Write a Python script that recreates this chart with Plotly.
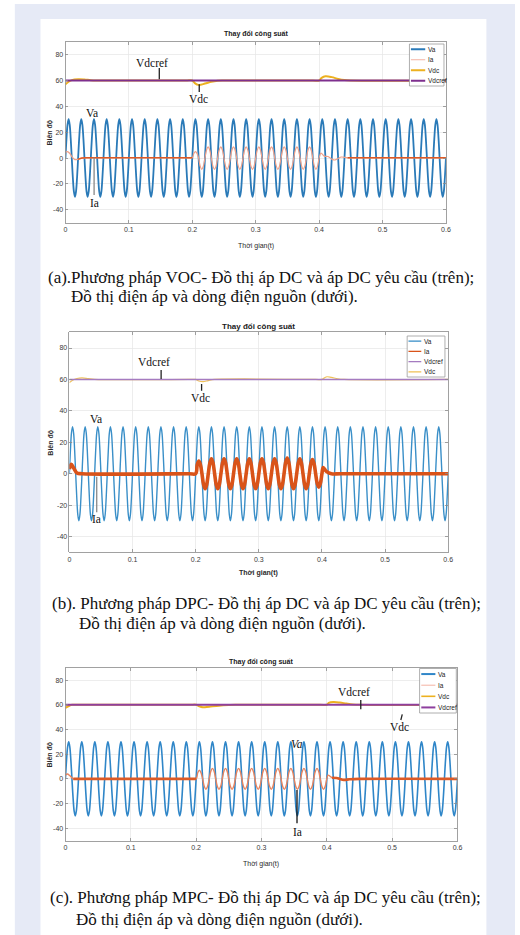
import plotly.graph_objects as go

W, H = 520, 935

# ------------------------------------------------------------------ data
X_RANGE = [0, 0.6]
Y_RANGE = [-50, 90]
X_TICKS = [0, 0.1, 0.2, 0.3, 0.4, 0.5, 0.6]
X_TICK_LABELS = ["0", "0.1", "0.2", "0.3", "0.4", "0.5", "0.6"]
Y_TICKS = [-40, -20, 0, 20, 40, 60, 80]
Y_TICK_LABELS = ["-40", "-20", "0", "20", "40", "60", "80"]

TITLE = "Thay đổi công suất"
X_LABEL = "Thời gian(t)"
Y_LABEL = "Biên độ"

T_END = 0.6
# one period of the source voltage Va (50 Hz, 30 V peak)
VA_PERIOD = 0.02
VA_CYCLE = [0, 15, 26, 30, 26, 15, 0, -15, -26, -30, -26, -15]
VDCREF = 60

# source current Ia: start transient, crest values of the oscillation after the
# load step (one every half period from 0.205 s), then the transient after 0.4 s
IA_OSC_START = 0.205
IA_HALF_PERIOD = 0.01
# shape of one crest: (time offset from crest, fraction of crest)
IA_CREST_PROFILE = [(-0.0025, 0.72), (0.0, 1.0), (0.0025, 0.72)]

IA_A_PRE_T = [0, 0.003, 0.007, 0.011, 0.015, 0.02, 0.026, 0.04, 0.19, 0.2]
IA_A_PRE_V = [4.5, 5, 3.5, 0.5, -1.2, -1, 0, 0.2, 0.2, 0.2]
IA_A_EXT = [5, -8.7, 8.7, -8.7, 8.7, -8.7, 8.7, -8.7, 8.7, -8.7,
            8.7, -8.7, 8.7, -8.7, 8.7, -8.7, 8.7, -8.7, 8.7, -8.7]
IA_A_POST_T = [0.4, 0.403, 0.408, 0.414, 0.42, 0.425, 0.43, 0.435, 0.445, 0.46, 0.6]
IA_A_POST_V = [0, 3.8, 1.5, 1.2, -0.8, -1.5, -0.3, 0.8, 0.2, 0.2, 0.2]

IA_B_PRE_T = [0, 0.003, 0.007, 0.012, 0.02, 0.19, 0.2]
IA_B_PRE_V = [3, 6, 3.5, 0.5, 0, 0, 0]
IA_B_EXT = [8, -9.5, 9.5, -9.5, 9.5, -9.5, 9.5, -9.5, 9.5, -9.5,
            9.5, -9.5, 9.5, -9.5, 10, -9.5, 9.5, -9.5, 9, -8.5]
IA_B_POST_T = [0.4, 0.402, 0.407, 0.415, 0.43, 0.6]
IA_B_POST_V = [0, 4, 1.5, 0, 0, 0]

IA_C_PRE_T = [0, 0.003, 0.007, 0.012, 0.02, 0.19, 0.2]
IA_C_PRE_V = [3, 4, 2.5, 0, 0, 0, 0]
IA_C_EXT = [7, -8.5, 8.5, -8.5, 8.5, -8.5, 8.5, -8.5, 8.5, -8.5,
            8.5, -8.5, 8.5, -8.5, 8.5, -8.5, 8.5, -8.5, 8.5, -8.5]
IA_C_POST_T = [0.4, 0.402, 0.408, 0.415, 0.42, 0.426, 0.435, 0.45, 0.6]
IA_C_POST_V = [0, 3, 1, 0.8, 0, -0.8, -0.3, 0, 0]

# DC-link voltage Vdc
VDC_A_T = [0, 0.005, 0.01, 0.02, 0.03, 0.04, 0.05, 0.19, 0.2, 0.204, 0.21, 0.22,
           0.23, 0.24, 0.25, 0.39, 0.4, 0.404, 0.41, 0.42, 0.43, 0.44, 0.45, 0.6]
VDC_A_V = [57, 59, 60.3, 61, 60.8, 60.2, 60, 60, 60, 58, 56.6, 57.6,
           59, 59.8, 60, 60, 60, 62, 63.2, 62.6, 61.2, 60.3, 60, 60]
VDC_B_T = [0, 0.005, 0.012, 0.02, 0.03, 0.04, 0.19, 0.2, 0.205, 0.212, 0.22, 0.23,
           0.39, 0.4, 0.404, 0.408, 0.415, 0.425, 0.435, 0.6]
VDC_B_V = [58, 59.5, 60.6, 61, 60.5, 60, 60, 60, 59, 58.6, 59.3, 60,
           60, 60, 61, 61.7, 61.3, 60.4, 60, 60]
VDC_C_T = [0, 0.005, 0.01, 0.02, 0.19, 0.2, 0.204, 0.21, 0.22, 0.235, 0.25, 0.26,
           0.39, 0.4, 0.403, 0.41, 0.42, 0.43, 0.44, 0.45, 0.6]
VDC_C_V = [57.5, 59, 60, 60, 60, 60, 59, 58, 58.5, 59.3, 59.8, 60,
           60, 60, 61.5, 62.2, 61.8, 61, 60.3, 60, 60]

LEGEND_A = ["Va", "Ia", "Vdc", "Vdcref"]
LEGEND_B = ["Va", "Ia", "Vdcref", "Vdc"]
LEGEND_C = ["Va", "Ia", "Vdc", "Vdcref"]

CAPTION_A = ["(a).Phương pháp VOC- Đồ thị áp DC và áp DC yêu cầu (trên);",
             "Đồ thị điện áp và dòng điện nguồn (dưới)."]
CAPTION_B = ["(b). Phương pháp DPC- Đồ thị áp DC và áp DC yêu cầu (trên);",
             "Đồ thị điện áp và dòng điện nguồn (dưới)."]
CAPTION_C = ["(c). Phương pháp MPC- Đồ thị áp DC và áp DC yêu cầu (trên);",
             "Đồ thị điện áp và dòng điện nguồn (dưới)."]

# curve labels written inside the plots: (text, t, value)
LABELS_A = [("Vdcref", 0.1365, 73.5), ("Vdc", 0.2097, 45.9), ("Va", 0.0413, 34.6), ("Ia", 0.0465, -34.5)]
LABELS_B = [("Vdcref", 0.1339, 70.9), ("Vdc", 0.2069, 48.4), ("Va", 0.0417, 34.6), ("Ia", 0.0428, -29)]
LABELS_C = [("Vdcref", 0.4415, 70.6), ("Vdc", 0.5118, 41.8), ("Va", 0.3544, 28), ("Ia", 0.3548, -42.7)]
# pointer strokes: (t0, v0, t1, v1)
POINTERS_A = [(0.148, 69.7, 0.148, 61), (0.211, 57, 0.211, 51), (0.0452, 0.4, 0.0452, -28.6)]
POINTERS_B = [(0.1453, 66, 0.1453, 60.3), (0.2094, 57.1, 0.2094, 52.8), (0.0433, -1.9, 0.0433, -24.5)]
POINTERS_C = [(0.452, 63.9, 0.452, 56.3), (0.5133, 47.7, 0.5155, 52.3), (0.3544, -9, 0.3544, -35.9)]


# ------------------------------------------------------------------ helpers
def px_x(p):
    return p / W


def px_y(p):
    return 1 - p / H


def tile_cycle(cycle, period, t_end):
    n = len(cycle)
    step = period / n
    ts, vs = [], []
    k = 0
    while k * step <= t_end + 1e-12:
        ts.append(round(k * step, 6))
        vs.append(cycle[k % n])
        k += 1
    return ts, vs


def ia_series(pre_t, pre_v, ext, post_t, post_v):
    ts, vs = list(pre_t), list(pre_v)
    for i, e in enumerate(ext):
        t = IA_OSC_START + i * IA_HALF_PERIOD
        if i > 0:
            ts.append(round(t - IA_HALF_PERIOD / 2, 6))
            vs.append(0)
        for dt, frac in IA_CREST_PROFILE:
            ts.append(round(t + dt, 6))
            vs.append(e * frac)
    ts += list(post_t)
    vs += list(post_v)
    return ts, vs


def segments(ts, vs, ranges):
    xs, ys = [], []
    for a, b in ranges:
        for t, v in zip(ts, vs):
            if a - 1e-9 <= t <= b + 1e-9:
                xs.append(t)
                ys.append(v)
        xs.append(None)
        ys.append(None)
    return xs, ys


VA_T, VA_V = tile_cycle(VA_CYCLE, VA_PERIOD, T_END)

PANELS = [
    dict(box=(64.3, 41.7, 450.0, 222.7), title_y=34, title_size=7, xlabel_y=246, ylabel_x=48,
         xlabel_bold=False,
         ia=ia_series(IA_A_PRE_T, IA_A_PRE_V, IA_A_EXT, IA_A_POST_T, IA_A_POST_V),
         vdc=(VDC_A_T, VDC_A_V),
         style={"Va": ("#2a7ab8", 1.8), "Ia": ("#f0a088", 1.2), "Vdc": ("#edb120", 2.0),
                "Vdcref": ("#7e2f8e", 2.0)},
         legend_w={"Va": 2.0, "Ia": 1.0, "Vdc": 2.0, "Vdcref": 2.0},
         ia_dark=[(0.02, 0.2), (0.445, 0.6)], ia_dark_style=("#dc5a26", 1.6),
         legend=LEGEND_A, legend_box=(413, 44, 448, 86), legend_line=(414.5, 429), legend_text=430,
         labels=LABELS_A, pointers=POINTERS_A, pointer_color=["#222", "#222", "#888"],
         caption=CAPTION_A, caption_xy=[(45, 277), (68, 296)], va_italic=False),
    dict(box=(68.3, 332.3, 452.3, 552.3), title_y=326, title_size=8, xlabel_y=573, ylabel_x=49,
         xlabel_bold=True,
         ia=ia_series(IA_B_PRE_T, IA_B_PRE_V, IA_B_EXT, IA_B_POST_T, IA_B_POST_V),
         vdc=(VDC_B_T, VDC_B_V),
         style={"Va": ("#3a8fc8", 1.4), "Ia": ("#d95319", 3.6), "Vdc": ("#f0c35a", 1.2),
                "Vdcref": ("#a57bc0", 1.6)},
         legend_w={"Va": 1.3, "Ia": 1.3, "Vdc": 1.3, "Vdcref": 1.3},
         ia_dark=None, ia_dark_style=None,
         legend=LEGEND_B, legend_box=(410.7, 336, 449, 377), legend_line=(412, 425), legend_text=426,
         labels=LABELS_B, pointers=POINTERS_B, pointer_color=["#222", "#222", "#888"],
         caption=CAPTION_B, caption_xy=[(49, 603), (76, 623)], va_italic=False),
    dict(box=(64.3, 667.7, 461.7, 840.7), title_y=661.5, title_size=7, xlabel_y=864, ylabel_x=48,
         xlabel_bold=False,
         ia=ia_series(IA_C_PRE_T, IA_C_PRE_V, IA_C_EXT, IA_C_POST_T, IA_C_POST_V),
         vdc=(VDC_C_T, VDC_C_V),
         style={"Va": ("#2f86c8", 1.6), "Ia": ("#e8845e", 1.4), "Vdc": ("#edb120", 2.0),
                "Vdcref": ("#8e3f9e", 2.0)},
         legend_w={"Va": 2.0, "Ia": 1.0, "Vdc": 1.6, "Vdcref": 2.0},
         ia_dark=[(0.012, 0.2), (0.404, 0.6)], ia_dark_style=("#dc5a26", 2.6),
         legend=LEGEND_C, legend_box=(423.3, 668.5, 460.5, 713), legend_line=(425, 439.3), legend_text=440,
         labels=LABELS_C, pointers=POINTERS_C, pointer_color=["#222", "#222", "#111"],
         caption=CAPTION_C, caption_xy=[(46.7, 897), (73.3, 919)], va_italic=True),
]
LEGEND_ITEM_COLOR = {"Ia": "#f4b3a2"}

# ------------------------------------------------------------------ figure
fig = go.Figure()
shapes = [
    dict(type="rect", xref="paper", yref="paper", x0=px_x(13), x1=1, y0=0, y1=px_y(4),
         fillcolor="#e6eaf6", line=dict(width=0), layer="below"),
    dict(type="rect", xref="paper", yref="paper", x0=px_x(39), x1=px_x(491), y0=0, y1=px_y(19),
         fillcolor="#ffffff", line=dict(width=0), layer="below"),
]
annotations = []
layout_axes = {}
SANS = "Liberation Sans"
SERIF = "Liberation Serif"

for k, p in enumerate(PANELS, start=1):
    sfx = "" if k == 1 else str(k)
    xa, ya = "x" + sfx, "y" + sfx
    x0, y0, x1, y1 = p["box"]
    st = p["style"]
    axis_common = dict(showgrid=True, gridcolor="#e6e6e6", gridwidth=0.7, zeroline=False,
                       showline=True, linecolor="#8a8a8a", linewidth=0.8, mirror="ticks",
                       ticks="inside", ticklen=3, tickcolor="#8a8a8a", tickwidth=0.8,
                       tickfont=dict(family=SANS, size=7, color="#3a3a3a"), fixedrange=True)
    layout_axes["xaxis" + sfx] = dict(axis_common, domain=[px_x(x0), px_x(x1)], range=X_RANGE,
                                      tickvals=X_TICKS, ticktext=X_TICK_LABELS, anchor=ya)
    layout_axes["yaxis" + sfx] = dict(axis_common, domain=[px_y(y1), px_y(y0)], range=Y_RANGE,
                                      tickvals=Y_TICKS, ticktext=Y_TICK_LABELS, anchor=xa)

    ia_t, ia_v = p["ia"]
    vdc_t, vdc_v = p["vdc"]
    fig.add_trace(go.Scatter(x=VA_T, y=VA_V, mode="lines", name="Va", xaxis=xa, yaxis=ya,
                             line=dict(color=st["Va"][0], width=st["Va"][1], shape="spline")))
    fig.add_trace(go.Scatter(x=ia_t, y=ia_v, mode="lines", name="Ia", xaxis=xa, yaxis=ya,
                             line=dict(color=st["Ia"][0], width=st["Ia"][1], shape="spline")))
    if p["ia_dark"]:
        dx, dy = segments(ia_t, ia_v, p["ia_dark"])
        fig.add_trace(go.Scatter(x=dx, y=dy, mode="lines", name="Ia", xaxis=xa, yaxis=ya,
                                 connectgaps=False,
                                 line=dict(color=p["ia_dark_style"][0], width=p["ia_dark_style"][1],
                                           shape="spline")))
    fig.add_trace(go.Scatter(x=vdc_t, y=vdc_v, mode="lines", name="Vdc", xaxis=xa, yaxis=ya,
                             line=dict(color=st["Vdc"][0], width=st["Vdc"][1], shape="spline")))
    fig.add_trace(go.Scatter(x=list(X_RANGE), y=[VDCREF, VDCREF], mode="lines", name="Vdcref",
                             xaxis=xa, yaxis=ya,
                             line=dict(color=st["Vdcref"][0], width=st["Vdcref"][1])))

    # title, axis labels
    cx = (x0 + x1) / 2
    annotations.append(dict(xref="paper", yref="paper", x=px_x(cx), y=px_y(p["title_y"]),
                            text="<b>" + TITLE + "</b>", showarrow=False, xanchor="center",
                            yanchor="middle", font=dict(family=SANS, size=p["title_size"], color="#1a1a1a")))
    xl = ("<b>" + X_LABEL + "</b>") if p["xlabel_bold"] else X_LABEL
    annotations.append(dict(xref="paper", yref="paper", x=px_x(cx), y=px_y(p["xlabel_y"]),
                            text=xl, showarrow=False, xanchor="center", yanchor="middle",
                            font=dict(family=SANS, size=7, color="#2a2a2a")))
    annotations.append(dict(xref="paper", yref="paper", x=px_x(p["ylabel_x"]), y=px_y((y0 + y1) / 2),
                            text="<b>" + Y_LABEL + "</b>", showarrow=False, textangle=-90,
                            xanchor="center", yanchor="middle",
                            font=dict(family=SANS, size=7, color="#2a2a2a")))

    # curve labels and pointer strokes
    for text, t, v in p["labels"]:
        tx = text
        if text == "Va" and p["va_italic"]:
            tx = "<i>" + text + "</i>"
        annotations.append(dict(xref=xa, yref=ya, x=t, y=v, text=tx, showarrow=False,
                                xanchor="center", yanchor="middle",
                                font=dict(family=SERIF, size=11.5, color="#111")))
    for (t0, v0, t1, v1), col in zip(p["pointers"], p["pointer_color"]):
        shapes.append(dict(type="line", xref=xa, yref=ya, x0=t0, y0=v0, x1=t1, y1=v1,
                           line=dict(color=col, width=1.3)))

    # legend box
    lx0, ly0, lx1, ly1 = p["legend_box"]
    shapes.append(dict(type="rect", xref="paper", yref="paper", x0=px_x(lx0), x1=px_x(lx1),
                       y0=px_y(ly1), y1=px_y(ly0), fillcolor="#ffffff",
                       line=dict(color="#9a9a9a", width=0.8)))
    n = len(p["legend"])
    row_h = (ly1 - ly0) / n
    for i, name in enumerate(p["legend"]):
        ry = ly0 + row_h * (i + 0.5)
        col = st[name][0]
        if name == "Ia" and k != 2:
            col = LEGEND_ITEM_COLOR["Ia"]
        shapes.append(dict(type="line", xref="paper", yref="paper",
                           x0=px_x(p["legend_line"][0]), x1=px_x(p["legend_line"][1]),
                           y0=px_y(ry), y1=px_y(ry), line=dict(color=col, width=p["legend_w"][name])))
        annotations.append(dict(xref="paper", yref="paper", x=px_x(p["legend_text"]), y=px_y(ry),
                                text=name, showarrow=False, xanchor="left", yanchor="middle",
                                font=dict(family=SANS, size=6.5, color="#222")))

    # caption
    for line, (cxp, cyp) in zip(p["caption"], p["caption_xy"]):
        annotations.append(dict(xref="paper", yref="paper", x=px_x(cxp), y=px_y(cyp), text=line,
                                showarrow=False, xanchor="left", yanchor="middle",
                                font=dict(family=SERIF, size=17, color="#111")))

fig.update_layout(width=W, height=H, margin=dict(l=0, r=0, t=0, b=0), autosize=False,
                  paper_bgcolor="#ffffff", plot_bgcolor="#ffffff", showlegend=False,
                  hovermode=False, shapes=shapes, annotations=annotations, **layout_axes)

fig.write_html("out.html", config={"displayModeBar": False, "staticPlot": True},
               post_script="document.body.style.margin='0';document.body.style.padding='0';")
